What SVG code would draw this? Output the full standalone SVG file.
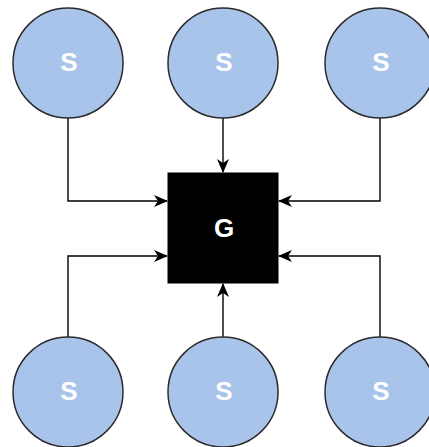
<svg xmlns="http://www.w3.org/2000/svg" width="429" height="447" viewBox="0 0 429 447">
  <style>
    .src { fill: #a9c4eb; stroke: #2b2b2b; stroke-width: 1.5; }
    .gw { fill: #000000; stroke: #000000; stroke-width: 1; }
    .lbl { fill: #ffffff; font-family: "Liberation Sans", Arial, sans-serif; font-weight: bold; font-size: 26px; text-anchor: middle; dominant-baseline: central; }
    .edge { fill: none; stroke: #000000; stroke-width: 1.4; marker-end: url(#arrow); }
  </style>
  <defs>
    <marker id="arrow" viewBox="0 0 14 12" refX="13" refY="6" markerWidth="14" markerHeight="12" markerUnits="userSpaceOnUse" orient="auto">
      <path d="M0,0 L14,6 L0,12 L4,6 Z" fill="#000000"/>
    </marker>
  </defs>

  <rect width="429" height="447" fill="#ffffff"/>

  <!-- connectors -->
  <g id="connectors">
    <path class="edge" d="M68,118 V201 H167"/>
    <path class="edge" d="M223,118 V172"/>
    <path class="edge" d="M380,118 V201 H279"/>
    <path class="edge" d="M68,337 V256 H167"/>
    <path class="edge" d="M223,337 V284"/>
    <path class="edge" d="M380,337 V256 H279"/>
  </g>

  <!-- gateway -->
  <g id="gateway">
    <rect class="gw" x="168" y="173" width="110" height="110"/>
    <text class="lbl" x="224" y="228">G</text>
  </g>

  <!-- sources, top row -->
  <g id="s1">
    <circle class="src" cx="68" cy="63" r="55"/>
    <text class="lbl" x="69" y="62">S</text>
  </g>
  <g id="s2">
    <circle class="src" cx="223" cy="63" r="55"/>
    <text class="lbl" x="224" y="62">S</text>
  </g>
  <g id="s3">
    <circle class="src" cx="380" cy="63" r="55"/>
    <text class="lbl" x="381" y="62">S</text>
  </g>

  <!-- sources, bottom row -->
  <g id="s4">
    <circle class="src" cx="68" cy="392" r="55"/>
    <text class="lbl" x="69" y="391">S</text>
  </g>
  <g id="s5">
    <circle class="src" cx="223" cy="392" r="55"/>
    <text class="lbl" x="224" y="391">S</text>
  </g>
  <g id="s6">
    <circle class="src" cx="380" cy="392" r="55"/>
    <text class="lbl" x="381" y="391">S</text>
  </g>
</svg>
